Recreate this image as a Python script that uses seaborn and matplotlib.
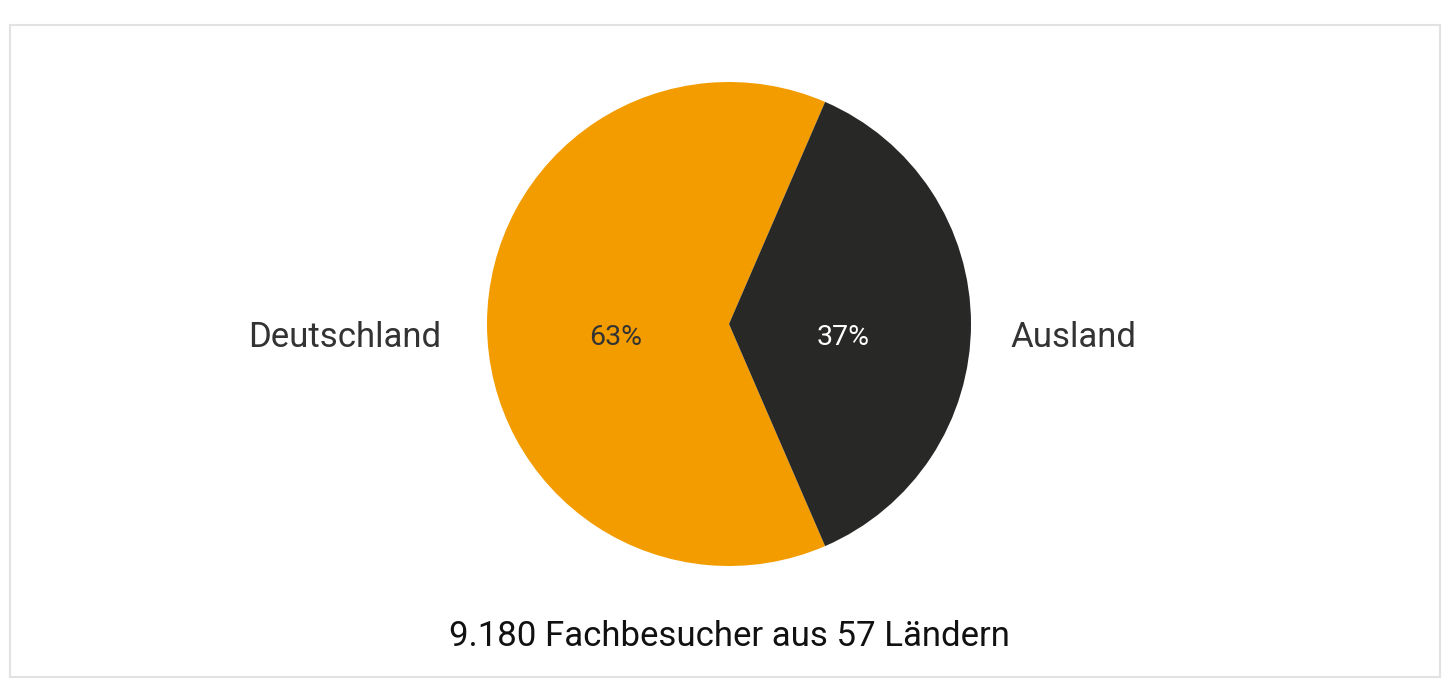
import matplotlib
matplotlib.use("Agg")
import matplotlib.pyplot as plt
from matplotlib.patches import Rectangle
import seaborn as sns

# data
regions = ["Deutschland", "Ausland"]
shares = [63, 37]
colors = ["#F39C00", "#282827"]
caption = "9.180 Fachbesucher aus 57 Ländern"

sns.set_theme(style="white")
plt.rcParams["font.family"] = ["Roboto", "DejaVu Sans"]

W, H = 1447, 682
fig = plt.figure(figsize=(W / 100, H / 100), dpi=100)
fig.patch.set_facecolor("white")

# light frame around the chart
fig.patches.append(Rectangle((10 / W, 5 / H), 1430 / W, 652 / H, transform=fig.transFigure,
                             fill=False, edgecolor="#e2e2e2", linewidth=1.5))

# pie axes: centre (729, 324) px, radius 242 px
cx, cy, r = 729, 324, 242
ax = fig.add_axes([(cx - r) / W, (H - cy - r) / H, 2 * r / W, 2 * r / H])

start = 360 * shares[1] / sum(shares) / 2
wedges, texts, autotexts = ax.pie(
    shares, labels=regions, colors=colors, startangle=start,
    autopct="%d%%", pctdistance=0.47, labeldistance=1.19,
    wedgeprops=dict(linewidth=0), textprops=dict(fontsize=25, color="#333333"),
)
for t in texts + autotexts:
    x, y = t.get_position()
    t.set_position((x, y - 0.055))
# Ausland label sits a bit closer to the pie
x, y = texts[1].get_position()
texts[1].set_position((x - 0.025, y))
for t, c in zip(autotexts, ["#333333", "white"]):
    t.set_color(c)
    t.set_fontsize(20.5)
ax.set_xlim(-1, 1)
ax.set_ylim(-1, 1)

fig.text(729 / W, (H - 636) / H, caption, ha="center", va="center",
         fontsize=25, color="#111111")

fig.savefig("out.png", dpi=100, facecolor="white")
